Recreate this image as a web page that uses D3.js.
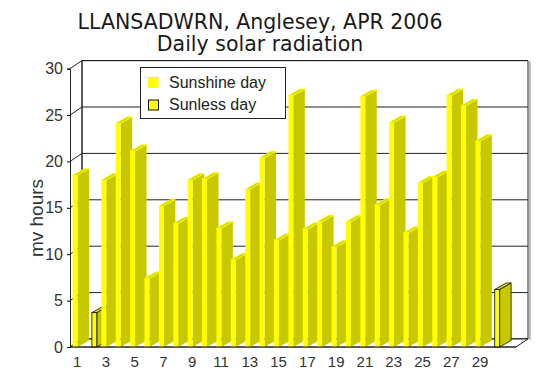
<!DOCTYPE html>
<html>
<head>
<meta charset="utf-8">
<script src="https://cdn.jsdelivr.net/npm/d3@7"></script>
<style>
  body { margin: 0; background: #fff; }
  svg { display: block; }
</style>
</head>
<body>
<div id="chart"></div>
<script>
// data
const days = [1,2,3,4,5,6,7,8,9,10,11,12,13,14,15,16,17,18,19,20,21,22,23,24,25,26,27,28,29,30];
const radiation = [18.5,3.7,18.0,24.1,21.1,7.4,15.2,13.3,18.0,18.1,12.8,9.4,17.0,20.4,11.5,27.1,12.7,13.5,10.8,13.5,27.0,15.3,24.2,12.3,17.7,18.3,27.1,26.0,22.2,6.2];
const sunlessDays = [2, 30];
const seriesNames = ['Sunshine day', 'Sunless day'];
const yTicks = [0, 5, 10, 15, 20, 25, 30];
const xTickDays = [1,3,5,7,9,11,13,15,17,19,21,23,25,27,29];

const width = 542, height = 378;

const svg = d3.select('#chart').append('svg')
	.attr('width', width)
	.attr('height', height);

// front plane of the 3d box
const plot = {left: 70, right: 516, bottom: 347, top: 68.6};
// wall depth and bar depth offsets
const wall = {dx: 12, dy: -8};
const depth = {dx: 11.5, dy: -6.5};

const xScale = d3.scaleBand()
	.domain(d3.range(1, 32))
	.range([plot.left, plot.right]);

const xSub = d3.scaleBand()
	.domain(seriesNames)
	.range([2.6, 12.4]);

const yScale = d3.scaleLinear()
	.domain([0, 30])
	.range([plot.bottom, plot.top]);

const line = d3.line();

//walls and floor
const walls = svg.append('g').attr('class', 'walls');

walls.append('path')
	.attr('d', line([
		[plot.left + wall.dx, yScale(0) + wall.dy],
		[plot.right + wall.dx, yScale(0) + wall.dy],
		[plot.right + wall.dx, yScale(30) + wall.dy],
		[plot.left + wall.dx, yScale(30) + wall.dy]
	]) + 'Z')
	.attr('fill', '#fff')
	.attr('stroke', '#222');

walls.append('line')
	.attr('x1', plot.right + wall.dx + 2).attr('x2', plot.right + wall.dx + 2)
	.attr('y1', yScale(30) + wall.dy + 1).attr('y2', yScale(0) + wall.dy + 1)
	.attr('stroke', '#aab').attr('stroke-width', 1.5);

walls.selectAll('.grid')
	.data(yTicks)
	.enter().append('path')
	.attr('class', 'grid')
	.attr('d', d => line([
		[plot.left, yScale(d)],
		[plot.left + wall.dx, yScale(d) + wall.dy],
		[plot.right + wall.dx, yScale(d) + wall.dy]
	]))
	.attr('fill', 'none')
	.attr('stroke', '#222');

// floor
walls.append('path')
	.attr('d', line([
		[plot.left, plot.bottom],
		[plot.right, plot.bottom],
		[plot.right + wall.dx, plot.bottom + wall.dy],
		[plot.left + wall.dx, plot.bottom + wall.dy]
	]) + 'Z')
	.attr('fill', '#fff')
	.attr('stroke', '#222');

walls.append('line')
	.attr('x1', plot.left + wall.dx).attr('x2', plot.left + wall.dx)
	.attr('y1', yScale(0) + wall.dy).attr('y2', yScale(30) + wall.dy)
	.attr('stroke', '#222');

//bars
const bars = days.map((d, i) => ({
	day: d,
	value: radiation[i],
	series: sunlessDays.includes(d) ? seriesNames[1] : seriesNames[0]
}));

const colors = {
	'Sunshine day': {front: '#ffff00', side: '#c8c800', top: '#d8d800', stroke: 'none'},
	'Sunless day': {front: '#ffff00', side: '#c8c800', top: '#d8d800', stroke: '#111'}
};

const barG = svg.append('g').attr('class', 'bars')
	.selectAll('.bar')
	.data(bars)
	.enter().append('g')
	.attr('class', 'bar');

function barGeom(d) {
	const x0 = xScale(d.day) + xSub(d.series);
	const w = xSub.bandwidth();
	return {x0: x0, x1: x0 + w, yt: yScale(d.value), yb: yScale(0)};
}

barG.append('path')
	.attr('d', d => {
		const g = barGeom(d);
		return line([
			[g.x1, g.yb], [g.x1 + depth.dx, g.yb + depth.dy],
			[g.x1 + depth.dx, g.yt + depth.dy], [g.x1, g.yt]
		]) + 'Z';
	})
	.attr('fill', d => colors[d.series].side)
	.attr('stroke', d => colors[d.series].stroke)
	.attr('stroke-width', 0.8);

barG.append('path')
	.attr('d', d => {
		const g = barGeom(d);
		return line([
			[g.x0, g.yt], [g.x0 + depth.dx, g.yt + depth.dy],
			[g.x1 + depth.dx, g.yt + depth.dy], [g.x1, g.yt]
		]) + 'Z';
	})
	.attr('fill', d => colors[d.series].top)
	.attr('stroke', d => d.series === seriesNames[1] ? '#111' : '#ffff00')
	.attr('stroke-width', 0.8);

barG.append('rect')
	.attr('x', d => barGeom(d).x0)
	.attr('y', d => barGeom(d).yt)
	.attr('width', xSub.bandwidth())
	.attr('height', d => barGeom(d).yb - barGeom(d).yt)
	.attr('fill', d => colors[d.series].front)
	.attr('stroke', d => colors[d.series].stroke)
	.attr('stroke-width', 0.8);

//axes
const yAxis = svg.append('g')
	.attr('transform', `translate(${plot.left},0)`)
	.call(d3.axisLeft(yScale).tickValues(yTicks).tickSize(3).tickPadding(4));

yAxis.select('.domain').attr('stroke', '#222');
yAxis.selectAll('text')
	.attr('font-family', 'Liberation Sans, Arial, sans-serif')
	.attr('font-size', 16)
	.attr('fill', '#333');

const xAxis = svg.append('g')
	.attr('transform', `translate(0,${plot.bottom})`)
	.call(d3.axisBottom(xScale).tickValues(xTickDays).tickSize(0).tickPadding(9.5));

xAxis.select('.domain').attr('stroke', '#222').attr('d', `M${plot.left},0H${plot.right}`);
xAxis.selectAll('text')
	.attr('font-family', 'Liberation Sans, Arial, sans-serif')
	.attr('font-size', 15)
	.attr('fill', '#333');

svg.append('text')
	.attr('transform', 'translate(43,218) rotate(-90)')
	.attr('text-anchor', 'middle')
	.attr('font-family', 'Liberation Sans, Arial, sans-serif')
	.attr('font-size', 19)
	.attr('fill', '#333')
	.text('mv hours');

//title
const title = svg.append('g')
	.attr('font-family', 'DejaVu Sans, Verdana, sans-serif')
	.attr('font-size', 20.5)
	.attr('fill', '#1a1a1a')
	.attr('text-anchor', 'middle');

title.append('text').attr('x', 260).attr('y', 28.5).text('LLANSADWRN, Anglesey, APR 2006');
title.append('text').attr('x', 260).attr('y', 50.5).text('Daily solar radiation');

//legend
const legend = svg.append('g').attr('class', 'legend');

legend.append('rect')
	.attr('x', 140.5).attr('y', 67.5)
	.attr('width', 145).attr('height', 51)
	.attr('fill', '#fff')
	.attr('stroke', '#222');

const items = legend.selectAll('.item')
	.data(seriesNames)
	.enter().append('g')
	.attr('class', 'item')
	.attr('transform', (d, i) => `translate(148,${77 + i * 22.5})`);

items.append('rect')
	.attr('x', (d, i) => i ? 0.5 : 0)
	.attr('y', (d, i) => i ? 0.5 : 0)
	.attr('width', (d, i) => i ? 10 : 10.5)
	.attr('height', (d, i) => i ? 10 : 11)
	.attr('fill', '#ffff00')
	.attr('stroke', (d, i) => i ? '#111' : 'none');

items.append('text')
	.attr('x', 21)
	.attr('y', 10.5)
	.attr('font-family', 'Liberation Sans, Arial, sans-serif')
	.attr('font-size', 16)
	.attr('fill', '#222')
	.text(d => d);
</script>
</body>
</html>
